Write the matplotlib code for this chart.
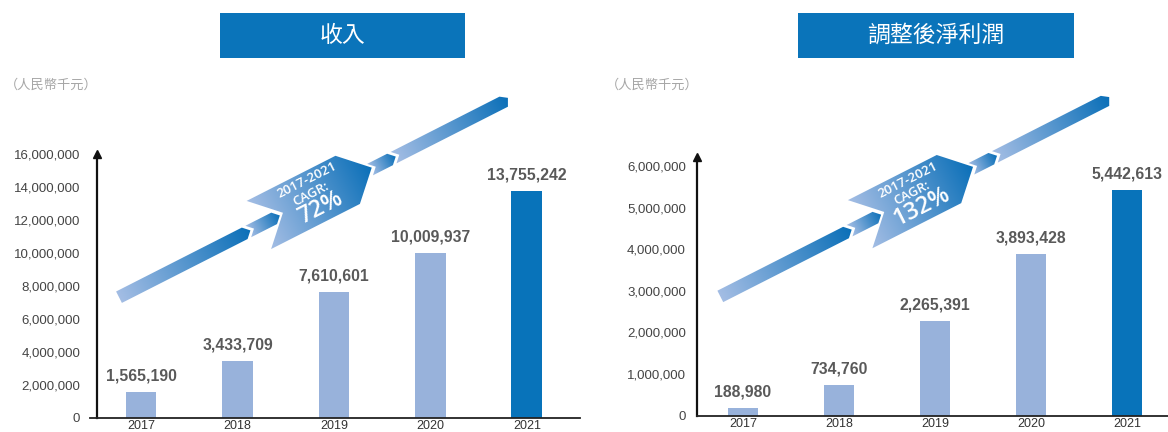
import matplotlib
matplotlib.use('Agg')

import matplotlib.pyplot as plt
import numpy as np
from matplotlib.colors import LinearSegmentedColormap
from matplotlib.patches import Polygon, Rectangle
from matplotlib.ticker import FuncFormatter

#=====Data=====
years = ['2017', '2018', '2019', '2020', '2021']
revenue = [1565190, 3433709, 7610601, 10009937, 13755242]
adj_profit = [188980, 734760, 2265391, 3893428, 5442613]
titles = ['收入', '調整後淨利潤']
unit_label = '（人民幣千元）'
cagr_period = '2017-2021'
cagr_values = ['72%', '132%']
rev_ticks = np.arange(0, 16000001, 2000000)
profit_ticks = np.arange(0, 6000001, 1000000)
#==============

W, H = 1168, 432
LIGHT = '#98b2db'
DARK = '#0873ba'
BOX = '#0a74ba'
CJK = ['Noto Sans CJK TC', 'DejaVu Sans']

plt.rcParams['font.family'] = ['Liberation Sans', 'DejaVu Sans']

fig = plt.figure(figsize=(W / 100, H / 100), dpi=100)


def px_box(x0, y_top, x1, y_bot):
    # pixel box (image coords, y down) -> figure fraction rect
    return [x0 / W, 1 - y_bot / H, (x1 - x0) / W, (y_bot - y_top) / H]


def bar_panel(rect, values, ticks, ylim_top, xlim, tick_pad, base_left):
    ax = fig.add_axes(rect)
    x = np.arange(len(values))
    colors = [LIGHT] * (len(values) - 1) + [DARK]
    ax.bar(x, values, width=0.32, color=colors, zorder=2)
    ax.set_xlim(*xlim)
    ax.set_ylim(0, ylim_top)
    ax.set_yticks(ticks)
    ax.yaxis.set_major_formatter(FuncFormatter(lambda v, p: f'{v:,.0f}'))
    ax.set_xticks(x)
    ax.set_xticklabels(years)
    ax.tick_params(axis='y', length=0, pad=tick_pad, labelsize=9.5, labelcolor='#444444')
    ax.tick_params(axis='x', length=0, pad=1.5, labelsize=9, labelcolor='#333333')
    for s in ['top', 'right', 'bottom']:
        ax.spines[s].set_visible(False)
    ax.spines['left'].set_linewidth(1.6)
    ax.spines['left'].set_color('#111111')
    ax.patch.set_alpha(0)
    # baseline and arrow head on y axis
    ax.plot([base_left, 1], [0, 0], transform=ax.transAxes, color='#222222',
            lw=1.3, clip_on=False, zorder=3)
    ax.plot([0], [1], marker='^', color='#111111', markersize=6,
            transform=ax.transAxes, clip_on=False)
    for i, v in enumerate(values):
        ax.annotate(f'{v:,}', (i, v), xytext=(0, 11.5), textcoords='offset points',
                    ha='center', va='center', fontsize=11.3, fontweight='bold',
                    color='#595959')
    return ax


ax1 = bar_panel(px_box(97, 154, 580, 418), revenue, rev_ticks, 16000000,
                (-0.456, 4.55), 12, -7 / 483)
ax2 = bar_panel(px_box(697, 156.5, 1168, 415.5), adj_profit, profit_ticks, 6240000,
                (-0.479, 4.427), 8, 0)

# overlay in pixel coordinates for decorations
ov = fig.add_axes([0, 0, 1, 1])
ov.set_xlim(0, W)
ov.set_ylim(H, 0)
ov.axis('off')

cmap = LinearSegmentedColormap.from_list('rib', ['#a3bde4', '#0a6fb8'])
u = np.array([0.8915, -0.4531])
n = np.array([-0.4531, -0.8915])

hb, HB, tc = 6.4, 27, 1
pieces = [
    [(0, hb), (141, hb), (147.4, 0), (141, -hb), (0, -hb)],
    [(145, hb), (174, hb), (180.4, 0), (174, -hb), (145, -hb), (151.4, 0)],
    [(157.4, tc + HB), (257, tc + HB), (284, tc), (257, tc - HB), (157.4, tc - HB), (184.4, tc)],
    [(281.6, hb), (304, hb), (310.4, 0), (304, -hb), (281.6, -hb), (288, 0)],
    [(308, hb), (430, hb), (437, 1.5), (433, -hb), (308, -hb), (314.4, 0)],
]


def to_px(origin, s, t):
    return origin + s * u + t * n


def draw_ribbon(origin, cagr):
    origin = np.array(origin)
    for pc in pieces:
        pts = np.array([to_px(origin, s, t) for s, t in pc])
        poly = Polygon(pts, closed=True, facecolor='none', edgecolor='none')
        ov.add_patch(poly)
        x0, y0 = pts.min(axis=0) - 1
        x1, y1 = pts.max(axis=0) + 1
        gx, gy = np.meshgrid(np.linspace(x0, x1, 200), np.linspace(y0, y1, 200))
        sv = (gx - origin[0]) * u[0] + (gy - origin[1]) * u[1]
        smin = min(p[0] for p in pc)
        smax = max(p[0] for p in pc)
        g = np.clip((sv - smin) / (smax - smin), 0, 1)
        im = ov.imshow(g, cmap=cmap, extent=(x0, x1, y1, y0), origin='upper',
                       interpolation='bilinear', aspect='auto', vmin=0, vmax=1)
        im.set_clip_path(poly)
    ang = np.degrees(np.arctan2(-u[1], u[0]))
    for (s, t), txt, fs in [((220.4, 19.0), cagr_period, 9.5),
                            ((217.5, 4.8), 'CAGR:', 9.5),
                            ((220, -11.5), cagr, 17)]:
        px, py = to_px(origin, s, t)
        ov.text(px, py, txt, rotation=ang, rotation_mode='anchor', ha='center',
                va='center', color='white', fontsize=fs, fontweight='semibold',
                family=['Open Sans', 'DejaVu Sans'])


draw_ribbon((119, 297.2), cagr_values[0])
draw_ribbon((720.3, 296.4), cagr_values[1])
ov.set_xlim(0, W)
ov.set_ylim(H, 0)

# title boxes
for (bx0, bx1), title in zip([(220, 465), (798, 1074)], titles):
    ov.add_patch(Rectangle((bx0, 13), bx1 - bx0, 45, facecolor=BOX, edgecolor='none'))
    ov.text((bx0 + bx1) / 2, 35, title, ha='center', va='center', color='white',
            fontsize=16.5, family=CJK)

# unit labels
for ux in [5, 606]:
    ov.text(ux, 85, unit_label, ha='left', va='center', color='#a6a6a6',
            fontsize=9.5, family=CJK)

plt.savefig('out.png', dpi=100)
